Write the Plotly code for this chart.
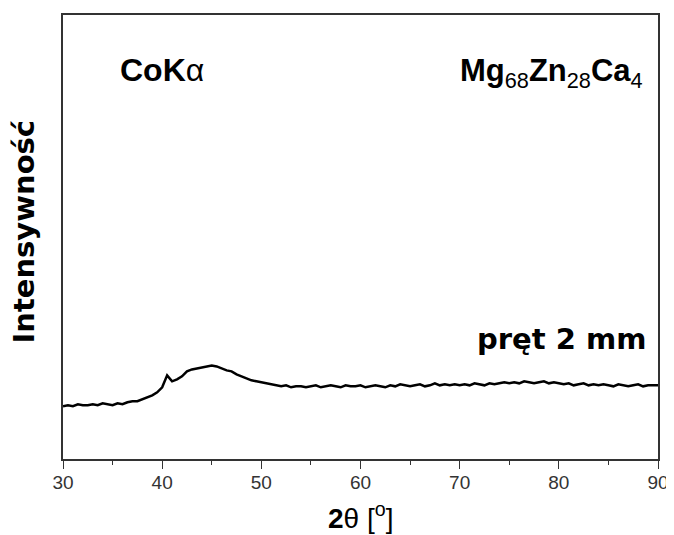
import plotly.graph_objects as go

two_theta = [30 + 0.5 * i for i in range(121)]
intensity = [
    53, 54, 53, 55, 54, 54, 55, 54, 56, 55,   # 30.0 - 34.5
    54, 56, 55, 57, 58, 58, 60, 62, 64, 67,   # 35.0 - 39.5
    72, 84, 78, 80, 83, 88, 90, 91, 92, 93,   # 40.0 - 44.5
    94, 93, 91, 89, 88, 85, 83, 81, 79, 78,   # 45.0 - 49.5
    77, 76, 75, 74, 73, 74, 72, 73, 73, 72,   # 50.0 - 54.5
    73, 74, 72, 73, 74, 73, 72, 74, 73, 73,   # 55.0 - 59.5
    74, 72, 73, 74, 73, 72, 74, 73, 75, 74,   # 60.0 - 64.5
    73, 74, 75, 73, 74, 76, 74, 75, 74, 75,   # 65.0 - 69.5
    74, 75, 74, 76, 75, 74, 76, 75, 76, 77,   # 70.0 - 74.5
    76, 77, 76, 78, 77, 76, 77, 78, 76, 77,   # 75.0 - 79.5
    76, 75, 76, 74, 75, 76, 74, 75, 74, 75,   # 80.0 - 84.5
    74, 73, 75, 74, 73, 74, 75, 73, 74, 74,   # 85.0 - 89.5
    74,                                       # 90.0
]
x_ticks = [30, 40, 50, 60, 70, 80, 90]

ARIAL = "Liberation Sans, Arial, sans-serif"
TAHOMA = "DejaVu Sans, Verdana, sans-serif"

fig = go.Figure()
fig.add_trace(go.Scatter(x=two_theta, y=intensity, mode="lines",
                         line=dict(color="black", width=2.5), showlegend=False))

axis_color = "#333333"
fig.update_layout(
    width=666, height=527,
    margin=dict(l=55, r=12, t=5, b=76),
    paper_bgcolor="white", plot_bgcolor="white",
    font=dict(family=ARIAL, color="black"),
    xaxis=dict(range=[30, 90], tickvals=x_ticks, ticks="outside", ticklen=8,
               tickwidth=1.3, tickcolor=axis_color, showline=True, linecolor=axis_color,
               linewidth=1.5, mirror=True, showgrid=False, zeroline=False,
               ticklabelstandoff=-3,
               tickfont=dict(size=19, color="#333333",
                             family="Liberation Sans Narrow, Liberation Sans, Arial, sans-serif"),
               minor=dict(dtick=5, ticks="outside", ticklen=4, tickcolor=axis_color, tickwidth=1.2)),
    yaxis=dict(range=[0, 446], showticklabels=False, ticks="", showline=True,
               linecolor=axis_color, linewidth=1.5, mirror=True, showgrid=False,
               zeroline=False),
    annotations=[
        dict(text="<b>2</b>θ [<sup>o</sup>]", xref="paper", yref="paper", x=0.5008, y=-0.128,
             xanchor="center", yanchor="middle", showarrow=False,
             font=dict(size=28, family=ARIAL)),
        dict(text="<b>Intensywność</b>", xref="paper", yref="paper", x=-0.065, y=0.513,
             textangle=-90, xanchor="center", yanchor="middle", showarrow=False,
             font=dict(size=29, family=TAHOMA)),
        dict(text="<b>CoK</b>α", xref="paper", yref="paper", x=0.0918, y=0.877,
             xanchor="left", yanchor="middle", showarrow=False,
             font=dict(size=32, family=ARIAL)),
        dict(text="<b>Mg</b><sub>68</sub><b>Zn</b><sub>28</sub><b>Ca</b><sub>4</sub>",
             xref="paper", yref="paper",
             x=0.978, y=0.87, xanchor="right", yanchor="middle", showarrow=False,
             font=dict(size=31, family=ARIAL)),
        dict(text="<b>pręt 2 mm</b>", xref="paper", yref="paper", x=0.983, y=0.271,
             xanchor="right", yanchor="middle", showarrow=False,
             font=dict(size=29, family=TAHOMA)),
    ],
)

fig.write_html("out.html")
